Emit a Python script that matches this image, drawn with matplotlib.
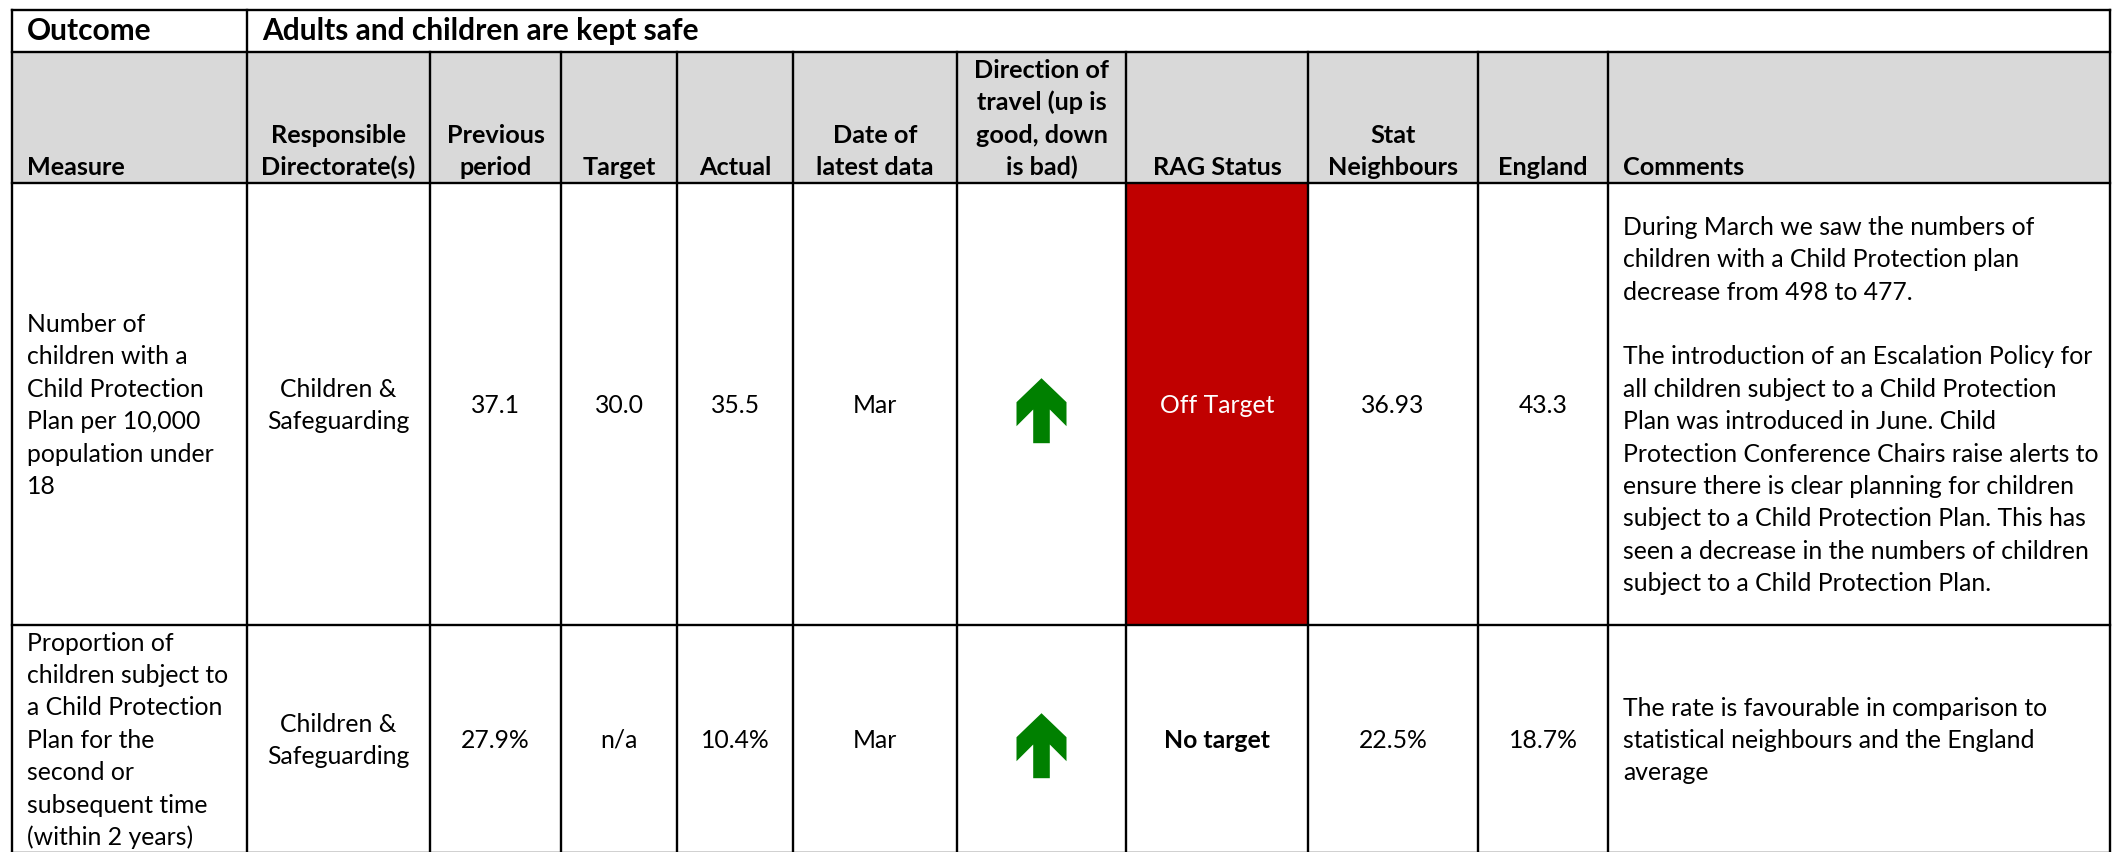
import matplotlib
matplotlib.use("Agg")
import matplotlib.pyplot as plt
from matplotlib.patches import Rectangle, Polygon

plt.rcParams['font.family'] = ['Lato', 'DejaVu Sans']

# ---------------- data ----------------
outcome_label = "Outcome"
outcome_text = "Adults and children are kept safe"
headers = ["Measure", "Responsible\nDirectorate(s)", "Previous\nperiod", "Target", "Actual",
           "Date of\nlatest data", "Direction of\ntravel (up is\ngood, down\nis bad)", "RAG Status",
           "Stat\nNeighbours", "England", "Comments"]
measures = ["Number of\nchildren with a\nChild Protection\nPlan per 10,000\npopulation under\n18",
            "Proportion of\nchildren subject to\na Child Protection\nPlan for the\nsecond or\nsubsequent time\n(within 2 years)"]
directorates = ["Children &\nSafeguarding", "Children &\nSafeguarding"]
previous = ["37.1", "27.9%"]
target = ["30.0", "n/a"]
actual = ["35.5", "10.4%"]
dates = ["Mar", "Mar"]
direction = ["up", "up"]
rag = ["Off Target", "No target"]
rag_colour = ["#C00000", None]
stat_neighbours = ["36.93", "22.5%"]
england = ["43.3", "18.7%"]
comments = ["During March we saw the numbers of\nchildren with a Child Protection plan\ndecrease from 498 to 477.\n\n"
            "The introduction of an Escalation Policy for\nall children subject to a Child Protection\n"
            "Plan was introduced in June. Child\nProtection Conference Chairs raise alerts to\n"
            "ensure there is clear planning for children\nsubject to a Child Protection Plan. This has\n"
            "seen a decrease in the numbers of children\nsubject to a Child Protection Plan.",
            "The rate is favourable in comparison to\nstatistical neighbours and the England\naverage"]

# ---------------- layout ----------------
W, H = 2119, 852
col_x = [12, 247, 430, 561, 677, 793, 957, 1126, 1308, 1478, 1608, 2110]
y_top, y_out, y_head = 10, 52, 183
row_y = [183, 625, 853]
FS = 17.8
FS_HEAD = 18.2
FS_OUT = 21.5
LS = 32.4
PAD = 15

fig = plt.figure(figsize=(W / 100, H / 100), dpi=100)
ax = fig.add_axes([0, 0, 1, 1])
ax.set_xlim(0, W)
ax.set_ylim(H, 0)
ax.axis('off')

def block(x, yc, text, ha='center', bold=False, color='black', anchor='center', fs=FS):
    lines = text.split("\n")
    n = len(lines)
    cap = fs / 2.0
    for i, ln in enumerate(lines):
        if anchor == 'center':
            b = yc - (n - 1) / 2 * LS + i * LS + cap
        else:  # bottom: yc is the last baseline
            b = yc - (n - 1 - i) * LS
        if ln:
            ax.text(x, b, ln, ha=ha, va='baseline', fontsize=fs,
                    fontweight='bold' if bold else 'normal', color=color)

# header background
ax.add_patch(Rectangle((col_x[0], y_out), col_x[-1] - col_x[0], y_head - y_out,
                       facecolor="#D9D9D9", edgecolor='none'))

# outcome row
block(col_x[0] + PAD, 40, outcome_label, ha='left', bold=True, fs=FS_OUT, anchor='bottom')
block(col_x[1] + PAD, 40, outcome_text, ha='left', bold=True, fs=FS_OUT, anchor='bottom')

# headers
for j, h in enumerate(headers):
    if j in (0, 10):
        block(col_x[j] + PAD, 175, h, ha='left', bold=True, anchor='bottom', fs=FS_HEAD)
    else:
        block((col_x[j] + col_x[j + 1]) / 2, 175, h, bold=True, anchor='bottom', fs=FS_HEAD)

def arrow(cx, cy, up=True):
    pts = [(0, -32.3), (25, -8.3), (25, 15.7), (8.3, -1), (8.3, 32.7),
           (-8.3, 32.7), (-8.3, -1), (-25, 15.7), (-25, -8.3)]
    s = 1 if up else -1
    ax.add_patch(Polygon([(cx + dx, cy + s * dy) for dx, dy in pts], closed=True,
                         facecolor="#008000", edgecolor='none'))

for r in range(len(measures)):
    y0, y1 = row_y[r], row_y[r + 1]
    yc = (y0 + y1) / 2
    cx = lambda j: (col_x[j] + col_x[j + 1]) / 2
    if rag_colour[r]:
        ax.add_patch(Rectangle((col_x[7], y0), col_x[8] - col_x[7], y1 - y0,
                               facecolor=rag_colour[r], edgecolor='none'))
    block(col_x[0] + PAD, yc, measures[r], ha='left')
    block(cx(1), yc, directorates[r])
    block(cx(2), yc, previous[r])
    block(cx(3), yc, target[r])
    block(cx(4), yc, actual[r])
    block(cx(5), yc, dates[r])
    arrow(cx(6), yc + 6.5, direction[r] == 'up')
    if rag_colour[r]:
        block(cx(7), yc, rag[r], color='white')
    else:
        block(cx(7), yc, rag[r], bold=True)
    block(cx(8), yc, stat_neighbours[r])
    block(cx(9), yc, england[r])
    block(col_x[10] + PAD, yc, comments[r], ha='left')

# grid lines
LW = 1.7
kw = dict(color='black', lw=LW, solid_capstyle='projecting')
for y in [y_top, y_out, y_head] + row_y[1:]:
    ax.plot([col_x[0], col_x[-1]], [y, y], **kw)
ax.plot([col_x[0], col_x[0]], [y_top, row_y[-1]], **kw)
ax.plot([col_x[-1], col_x[-1]], [y_top, row_y[-1]], **kw)
ax.plot([col_x[1], col_x[1]], [y_top, row_y[-1]], **kw)
for x in col_x[2:-1]:
    ax.plot([x, x], [y_out, row_y[-1]], **kw)

fig.savefig("out.png", dpi=100)
